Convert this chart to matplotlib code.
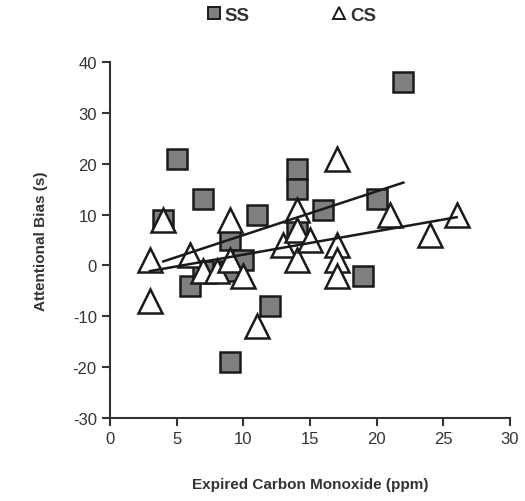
import matplotlib.pyplot as plt
from matplotlib.lines import Line2D

# SS group (squares)
ss_co = [4, 5, 6, 7, 7, 9, 9, 9, 10, 11, 12, 14, 14, 14, 16, 19, 20, 22]
ss_bias = [9, 21, -4, 13, -1, 5, -1, -19, 1, 10, -8, 19, 15, 7, 11, -2, 13, 36]

# CS group (triangles)
cs_co = [3, 3, 4, 6, 7, 8, 9, 9, 10, 11, 13, 14, 14, 14, 15, 17, 17, 17, 17, 21, 24, 26]
cs_bias = [1, -7, 9, 2, -1, -1, 9, 1, -2, -12, 4, 11, 7, 1, 5, 21, 4, 1, -2, 10, 6, 10]

# trend line end points
ss_fit_x = [4, 22]
ss_fit_y = [0.8, 16.3]
cs_fit_x = [3, 26]
cs_fit_y = [-1.1, 9.5]

plt.rcParams['font.family'] = ['Liberation Sans', 'DejaVu Sans']
plt.rcParams['axes.unicode_minus'] = False

fig = plt.figure(figsize=(5.25, 5.02), dpi=100)
ax = fig.add_axes([0.2095, 0.1653, 0.762, 0.709])

dark = '#333333'
ax.plot(ss_co, ss_bias, linestyle='none', marker='s', markersize=15,
        markerfacecolor='#7f7f7f', markeredgecolor='#1a1a1a', markeredgewidth=1.8)
ax.plot(cs_co, cs_bias, linestyle='none', marker='^', markersize=17,
        markerfacecolor='white', markeredgecolor='#1a1a1a', markeredgewidth=1.8)
ax.plot(ss_fit_x, ss_fit_y, color='#1a1a1a', lw=1.8)
ax.plot(cs_fit_x, cs_fit_y, color='#1a1a1a', lw=1.8)

ax.set_xlim(0, 30)
ax.set_ylim(-30, 40)
ax.set_xticks(range(0, 31, 5))
ax.set_yticks(range(-30, 41, 10))
for s in ['top', 'right']:
    ax.spines[s].set_visible(False)
for s in ['left', 'bottom']:
    ax.spines[s].set_color(dark)
    ax.spines[s].set_linewidth(1.5)
ax.tick_params(colors=dark, labelsize=12, length=6, width=1.5, direction='out')

ax.set_xlabel('Expired Carbon Monoxide (ppm)', fontsize=11, fontweight='bold',
              color=dark, labelpad=22)
ax.set_ylabel('Attentional Bias (s)', fontsize=11, fontweight='bold',
              color=dark, labelpad=18)

# legend drawn as two separate entries along the top
entries = [
    ('s', '#7f7f7f', 'SS', 0.435),
    ('^', 'white', 'CS', 0.675),
]
for mk, fc, label, xpos in entries:
    h = Line2D([], [], linestyle='none', marker=mk, markersize=9,
               markerfacecolor=fc, markeredgecolor='#1a1a1a', markeredgewidth=1.4)
    leg = fig.legend([h], [label], loc='center', bbox_to_anchor=(xpos, 0.968),
                     frameon=False, handlelength=0.7, handletextpad=0.25,
                     prop={'weight': 'bold', 'size': 13.5})
    leg.get_texts()[0].set_color(dark)

fig.savefig('out.png', dpi=100)
